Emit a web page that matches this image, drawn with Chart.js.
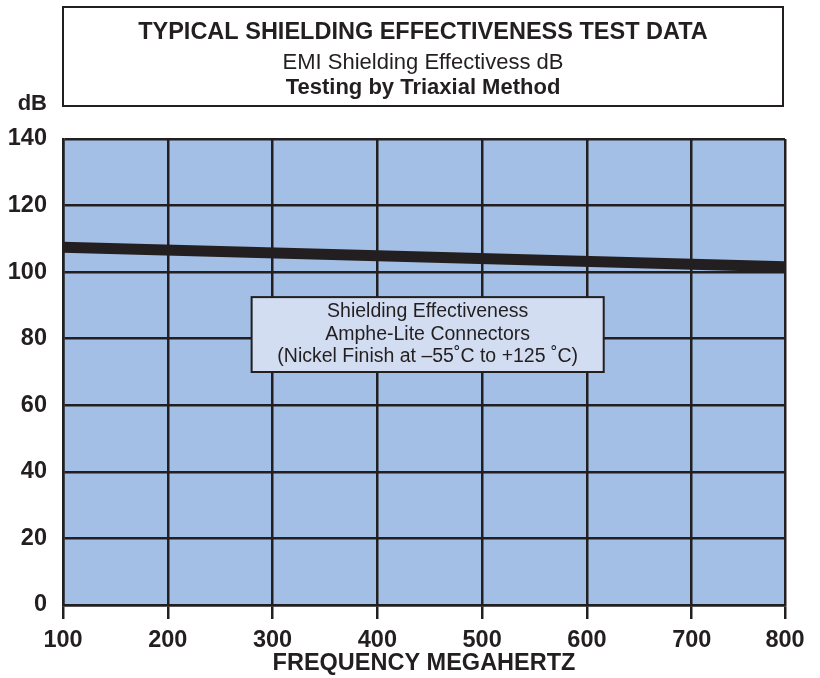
<!DOCTYPE html>
<html>
<head>
<meta charset="utf-8">
<script src="https://cdn.jsdelivr.net/npm/chart.js@4/dist/chart.umd.min.js"></script>
<style>
  html, body { margin: 0; padding: 0; background: #ffffff; overflow: hidden; }
  #wrap { width: 820px; height: 678px; }
</style>
</head>
<body>
<div id="wrap"><canvas id="chart" width="820" height="678"></canvas></div>
<script>
// ---- data ----
const frequenciesMHz = [100, 800];
const shieldingDb = [107.5, 101.5];
const xTickLabels = [100, 200, 300, 400, 500, 600, 700, 800];
const yTickLabels = [0, 20, 40, 60, 80, 100, 120, 140];
const titleLines = [
  'TYPICAL SHIELDING EFFECTIVENESS TEST DATA',
  'EMI Shielding Effectivess dB',
  'Testing by Triaxial Method'
];
const annotationLines = [
  'Shielding Effectiveness',
  'Amphe-Lite Connectors',
  '(Nickel Finish at \u201355\u02DAC to +125 \u02DAC)'
];
const xAxisTitle = 'FREQUENCY MEGAHERTZ';
const yAxisUnit = 'dB';

// ---- styling / layout ----
const INK = '#231f20';
const PLOT_FILL = '#a3bfe5';
const NOTE_FILL = '#d2ddf2';
const FONT = '"Liberation Sans", Arial, Helvetica, sans-serif';
// the reference's right edge (labelled 800) sits where 789 would be on its even 100-MHz grid
const X_EDGE = 789;
// annotation box in data coordinates
const noteBox = { x0: 280, x1: 616, y0: 70, y1: 92.5 };

const backgroundPlugin = {
  id: 'plotBackground',
  beforeDraw(chart) {
    const { ctx, chartArea: a } = chart;
    ctx.save();
    ctx.fillStyle = PLOT_FILL;
    ctx.fillRect(a.left, a.top, a.right - a.left, a.bottom - a.top);
    ctx.restore();
  }
};

const notePlugin = {
  id: 'noteBox',
  afterDatasetsDraw(chart) {
    const { ctx } = chart;
    const xs = chart.scales.x, ys = chart.scales.y;
    const l = xs.getPixelForValue(noteBox.x0), r = xs.getPixelForValue(noteBox.x1);
    const t = ys.getPixelForValue(noteBox.y1), b = ys.getPixelForValue(noteBox.y0);
    ctx.save();
    ctx.fillStyle = NOTE_FILL;
    ctx.fillRect(l, t, r - l, b - t);
    ctx.strokeStyle = INK;
    ctx.lineWidth = 2;
    ctx.strokeRect(l, t, r - l, b - t);
    ctx.fillStyle = INK;
    ctx.font = '19.5px ' + FONT;
    ctx.textAlign = 'center';
    ctx.textBaseline = 'middle';
    const cx = (l + r) / 2;
    const step = 22.5;
    const cy = (t + b) / 2;
    annotationLines.forEach((s, i) => {
      ctx.fillText(s, cx, cy + (i - 1) * step);
    });
    ctx.restore();
  }
};

const titlePlugin = {
  id: 'titleBox',
  afterDraw(chart) {
    const { ctx, chartArea: a } = chart;
    const l = a.left, r = a.right - 2, t = 7, b = 106;
    ctx.save();
    ctx.strokeStyle = INK;
    ctx.lineWidth = 2;
    ctx.strokeRect(l, t, r - l, b - t);
    ctx.fillStyle = INK;
    ctx.textAlign = 'center';
    ctx.textBaseline = 'alphabetic';
    const cx = (l + r) / 2;
    ctx.font = 'bold 23.5px ' + FONT;
    ctx.fillText(titleLines[0], cx, 38.5);
    ctx.font = '22px ' + FONT;
    ctx.fillText(titleLines[1], cx, 69);
    ctx.font = 'bold 22px ' + FONT;
    ctx.fillText(titleLines[2], cx, 93.5);
    // unit label above the y axis
    ctx.textAlign = 'right';
    ctx.font = 'bold 22px ' + FONT;
    ctx.fillText(yAxisUnit, 47, 110);
    ctx.restore();
  }
};

new Chart(document.getElementById('chart'), {
  type: 'line',
  data: {
    datasets: [{
      data: frequenciesMHz.map((f, i) => ({ x: f, y: shieldingDb[i] })),
      borderColor: INK,
      borderWidth: 11,
      borderCapStyle: 'butt',
      pointRadius: 0,
      tension: 0,
      fill: false,
      clip: 0
    }]
  },
  options: {
    responsive: false,
    animation: false,
    devicePixelRatio: 1,
    layout: { padding: { top: 139, right: 35, left: 0, bottom: 0 } },
    plugins: {
      legend: { display: false },
      tooltip: { enabled: false },
      title: { display: false }
    },
    scales: {
      x: {
        type: 'linear',
        min: 100,
        max: X_EDGE,
        afterBuildTicks(scale) {
          scale.ticks = xTickLabels.map(v => ({ value: Math.min(v, X_EDGE) }));
        },
        afterFit(scale) { scale.height = 73; },
        grid: { color: INK, lineWidth: 2.5, drawTicks: true, tickLength: 14 },
        border: { display: true, color: INK, width: 2.5 },
        ticks: {
          color: INK,
          padding: 7,
          autoSkip: false,
          maxRotation: 0,
          font: { family: FONT, size: 23.5, weight: 'bold' },
          callback: (v, i) => String(xTickLabels[i])
        },
        title: {
          display: true,
          text: xAxisTitle,
          color: INK,
          font: { family: FONT, size: 23.5, weight: 'bold' },
          padding: { top: 0, bottom: 0 }
        }
      },
      y: {
        type: 'linear',
        min: 0,
        max: 140,
        afterBuildTicks(scale) {
          scale.ticks = yTickLabels.map(v => ({ value: v }));
        },
        afterFit(scale) { scale.width = 63; },
        grid: { color: INK, lineWidth: 2.5, drawTicks: false },
        border: { display: true, color: INK, width: 2.5 },
        ticks: {
          color: INK,
          padding: 16,
          font: { family: FONT, size: 23.5, weight: 'bold' },
          callback: (v, i) => String(yTickLabels[i])
        }
      }
    }
  },
  plugins: [backgroundPlugin, notePlugin, titlePlugin]
});
</script>
</body>
</html>
